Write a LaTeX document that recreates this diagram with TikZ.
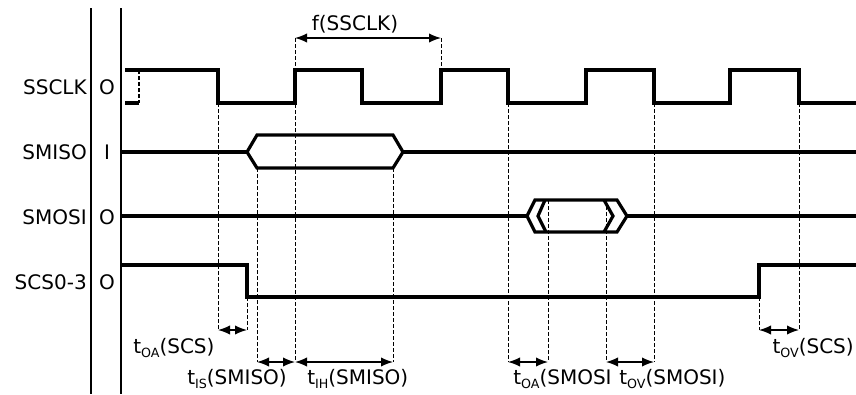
\documentclass[tikz,border=0pt]{standalone}
\usepackage{fontspec}
\setmainfont{DejaVu Sans}
\usetikzlibrary{arrows.meta,positioning}

\newcommand\tsub[1]{\raisebox{-0.35ex}{\fontsize{9.5}{10}\selectfont #1}}

\begin{document}
\begin{tikzpicture}[x=0.75pt,y=-0.75pt,>={Latex[length=9pt,width=7pt]},
  every node/.style={font=\fontsize{15}{18}\selectfont,inner sep=0pt},
  wave/.style={line width=2.4pt,line join=miter},
  guide/.style={line width=0.6pt,dash pattern=on 3pt off 1.5pt},
  span/.style={<->,line width=1pt}]
\useasboundingbox (0,0) rectangle (856,394);

% frame
\draw[line width=1pt] (91,8) -- (91,394) (121,8) -- (121,394);

% signal names and directions
\node[anchor=east] (sclk) at (87,87) {SSCLK};
\node[anchor=east] (miso) at (87,152) {SMISO};
\node[anchor=east] (mosi) at (87,217) {SMOSI};
\node[anchor=east] (scs) at (87,282) {SCS0-3};
\node (sclkdir) at (107,87) {O};
\node (misodir) at (107,152) {I};
\node (mosidir) at (107,217) {O};
\node (scsdir) at (107,282) {O};

% waveforms
\draw[wave] (125,70) -- (218,70) -- (218,103) -- (295,103) -- (295,70) -- (362,70) -- (362,103)
  -- (441,103) -- (441,70) -- (508,70) -- (508,103) -- (586,103) -- (586,70) -- (654,70)
  -- (654,103) -- (730,103) -- (730,70) -- (799,70) -- (799,103) -- (856,103);
\draw[wave] (125,103) -- (139,103);
\draw[guide,line width=1.4pt] (139,70) -- (139,103);

\draw[wave] (121,152) -- (247,152) (403,152) -- (856,152);
\draw[wave] (247,152) -- (257,135) -- (393,135) -- (403,152) -- (393,168) -- (257,168) -- cycle;

\draw[wave] (121,216) -- (527,216) (627,216) -- (856,216);
\draw[wave] (527,216) -- (535,200) -- (617,200) -- (627,216) -- (617,232) -- (535,232) -- cycle;
\draw[wave] (545,200) -- (538,216) -- (546,232) (604,200) -- (613,216) -- (604,232);

\draw[wave] (121,265) -- (247,265) -- (247,297) -- (759,297) -- (759,265) -- (856,265);

% guides
\draw[guide] (295,38) -- (295,362) (441,38) -- (441,70)
  (218,103) -- (218,330) (247,297) -- (247,330)
  (257,168) -- (257,362) (393,168) -- (393,362)
  (508,103) -- (508,362) (548,200) -- (548,362)
  (606,200) -- (606,362) (654,103) -- (654,362)
  (759,297) -- (759,330) (799,103) -- (799,330);

% timing spans
\draw[span] (295,38) -- (441,38);
\draw[span] (218,330) -- (247,330);
\draw[span] (257,362) -- (295,362);
\draw[span] (295,362) -- (393,362);
\draw[span] (508,362) -- (548,362);
\draw[span] (606,362) -- (654,362);
\draw[span] (759,330) -- (799,330);

\node (fclk) at (355,24) {f(SSCLK)};
\node[anchor=west] (toascs) at (133,348) {t\tsub{OA}(SCS)};
\node[anchor=west] (tismiso) at (187,379) {t\tsub{IS}(SMISO)};
\node[anchor=west] (tihmiso) at (307,379) {t\tsub{IH}(SMISO)};
\node[anchor=west] (toamosi) at (513,379) {t\tsub{OA}(SMOSI};
\node[anchor=west] (tovmosi) at (619,379) {t\tsub{OV}(SMOSI)};
\node[anchor=east] (tovscs) at (854,348) {t\tsub{OV}(SCS)};

\end{tikzpicture}
\end{document}
